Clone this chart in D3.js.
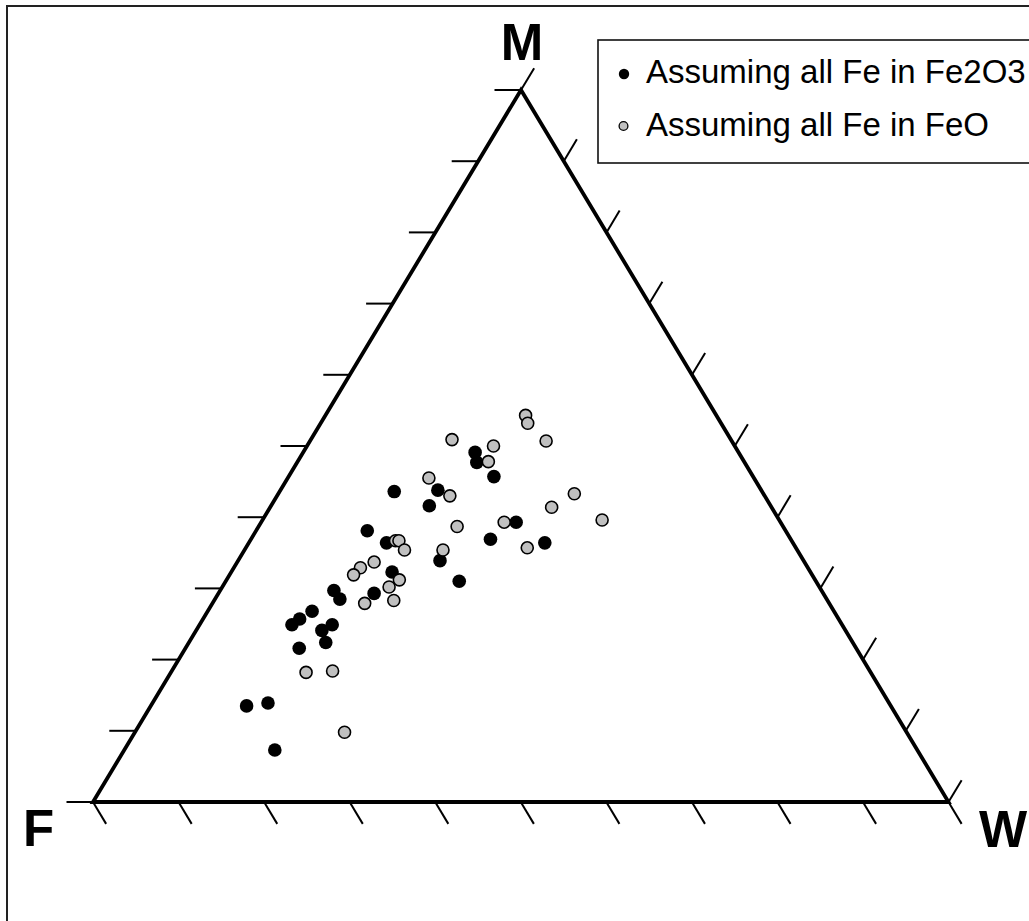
<!DOCTYPE html>
<html><head><meta charset="utf-8">
<script src="https://cdn.jsdelivr.net/npm/d3@7/dist/d3.min.js"></script>
<style>body{margin:0;background:#fff}svg{display:block}text{font-family:"Liberation Sans",Arial,sans-serif}</style>
</head><body>
<script>
// Ternary data (percent): F, M, W
const fe2o3F = [30.8,31.3,30.3,37.8,39.9,30.9,35.1,29.0,42.5,41.7,43.0,48.9,47.5,48.9,57.0,52.5,56.9,61.0,63.0,64.3,59.6,61.2,61.6,65.1,72.6,75.3,75.1];
const fe2o3M = [49.1,47.7,45.7,43.8,41.6,39.3,36.9,36.4,33.9,31.0,43.6,38.1,36.4,32.3,29.7,29.3,28.5,26.8,25.7,24.9,24.9,24.1,22.4,21.6,13.9,13.5,7.3];
const fe2o3W = [20.1,21.0,24.0,18.4,18.5,29.8,28.0,34.6,23.6,27.3,13.4,13.0,16.1,18.8,13.3,18.2,14.6,12.2,11.3,10.8,15.5,14.7,16.0,13.3,13.5,11.2,17.6];
const feoF = [22.3,22.6,32.6,28.2,21.7,29.9,38.0,36.8,22.1,25.7,20.7,32.3,38.1,31.4,41.4,46.3,45.9,45.9,50.3,52.3,53.6,48.6,50.3,54.3,50.7,66.0,62.8,65.7];
const feoM = [54.3,53.2,50.9,50.0,50.7,47.8,45.5,43.0,43.3,41.4,39.6,39.3,38.7,35.7,35.4,36.7,36.7,35.4,33.7,32.9,31.9,31.2,30.2,27.9,28.3,18.2,18.4,9.8];
const feoW = [23.4,24.2,16.5,21.8,27.6,22.3,16.5,20.2,34.6,32.9,39.7,28.4,23.2,32.9,23.2,17.0,17.4,18.7,16.0,14.8,14.5,20.2,19.5,17.8,21.0,15.8,18.8,24.5];
const axisTicks = [0,10,20,30,40,50,60,70,80,90,100];
const vertexLabels = ["F","M","W"];
const legendLabels = ["Assuming all Fe in Fe2O3","Assuming all Fe in FeO"];

const W = 1029, H = 921;
const svg = d3.select("body").append("svg").attr("width", W).attr("height", H);

// vertices
const Fv = [93, 802], Wv = [948.5, 802], Mv = [521, 90];
const xW = d3.scaleLinear().domain([0,100]).range([Fv[0], Wv[0]]);
const xM = d3.scaleLinear().domain([0,100]).range([0, Mv[0]-Fv[0]]);
const yM = d3.scaleLinear().domain([0,100]).range([Fv[1], Mv[1]]);
function proj(f, m, w){ const s=f+m+w; m=m*100/s; w=w*100/s; return [xW(w)+xM(m), yM(m)]; }

// outer frame
svg.append("rect").attr("x",7).attr("y",6).attr("width",1060).attr("height",960)
  .attr("fill","none").attr("stroke","#222").attr("stroke-width",2);

// ticks
const tl = 25.5;
const dirRight = (()=>{const dx=Wv[0]-Mv[0], dy=Wv[1]-Mv[1]; const L=Math.hypot(dx,dy); return [dx/L, dy/L];})(); // down-right
const dirLeft = (()=>{const dx=Mv[0]-Fv[0], dy=Mv[1]-Fv[1]; const L=Math.hypot(dx,dy); return [dx/L, dy/L];})(); // up-right
const g = svg.append("g");
axisTicks.forEach(t=>{
  const p = proj(100-t, t, 0);
  g.append("line").attr("x1",p[0]).attr("y1",p[1]).attr("x2",p[0]-tl-1).attr("y2",p[1]).attr("stroke","#000").attr("stroke-width",2);
});
axisTicks.forEach(t=>{
  const p = proj(100-t, 0, t);
  g.append("line").attr("x1",p[0]).attr("y1",p[1]).attr("x2",p[0]+dirRight[0]*tl).attr("y2",p[1]+dirRight[1]*tl).attr("stroke","#000").attr("stroke-width",2);
});
axisTicks.forEach(t=>{
  const p = proj(0, t, 100-t);
  g.append("line").attr("x1",p[0]).attr("y1",p[1]).attr("x2",p[0]+dirLeft[0]*tl).attr("y2",p[1]+dirLeft[1]*tl).attr("stroke","#000").attr("stroke-width",2);
});

// triangle
svg.append("path").attr("d", d3.line()([Fv, Mv, Wv]) + "Z")
  .attr("fill","none").attr("stroke","#000").attr("stroke-width",3.8).attr("stroke-linejoin","miter");

// vertex labels
svg.append("text").attr("x",522).attr("y",60).attr("text-anchor","middle").attr("font-size",51).attr("font-weight","bold").text(vertexLabels[1]);
svg.append("text").attr("x",23).attr("y",846).attr("font-size",51).attr("font-weight","bold").text(vertexLabels[0]);
svg.append("text").attr("x",979).attr("y",847).attr("font-size",51).attr("font-weight","bold").text(vertexLabels[2]);

// points
const blackPts = fe2o3F.map((f,i)=>proj(f, fe2o3M[i], fe2o3W[i]));
const grayPts = feoF.map((f,i)=>proj(f, feoM[i], feoW[i]));
svg.append("g").selectAll("circle").data(blackPts).join("circle")
  .attr("cx",d=>d[0]).attr("cy",d=>d[1]).attr("r",6.8).attr("fill","#000");
svg.append("g").selectAll("circle").data(grayPts).join("circle")
  .attr("cx",d=>d[0]).attr("cy",d=>d[1]).attr("r",6).attr("fill","#c0c0c0").attr("stroke","#000").attr("stroke-width",1.6);

// legend
svg.append("rect").attr("x",598).attr("y",40).attr("width",500).attr("height",123)
  .attr("fill","#fff").attr("stroke","#111").attr("stroke-width",1.6);
svg.append("circle").attr("cx",624).attr("cy",74).attr("r",5.2).attr("fill","#000");
svg.append("circle").attr("cx",623.5).attr("cy",126).attr("r",4.4).attr("fill","#c0c0c0").attr("stroke","#000").attr("stroke-width",1.3);
svg.append("text").attr("x",646).attr("y",83).attr("font-size",33).text(legendLabels[0]);
svg.append("text").attr("x",646).attr("y",136).attr("font-size",33).text(legendLabels[1]);
</script>
</body></html>
